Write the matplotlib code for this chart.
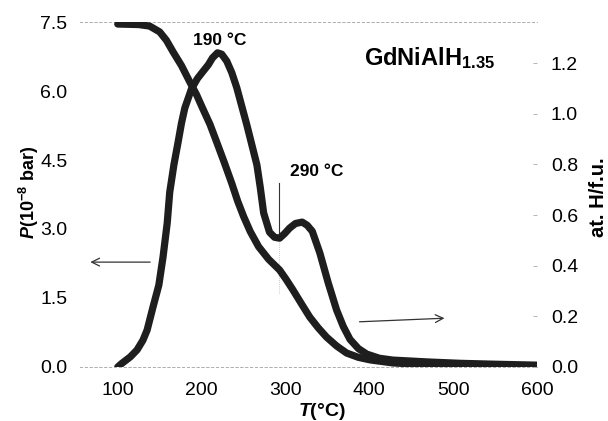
import matplotlib
matplotlib.use("Agg")
import matplotlib.pyplot as plt

plt.rcParams["font.family"] = ["Liberation Sans", "DejaVu Sans"]
plt.rcParams["mathtext.fontset"] = "custom"
plt.rcParams["mathtext.rm"] = "Liberation Sans:bold"
plt.rcParams["mathtext.bf"] = "Liberation Sans:bold"
plt.rcParams["mathtext.it"] = "Liberation Sans:bold:italic"

# desorption pressure (left axis)
temp_p = [100, 105, 115, 123, 130, 135, 142, 149, 154, 159, 162, 167, 172, 176,
          180, 188, 195, 201, 208, 213, 219, 224, 230, 236, 242, 254, 266, 270,
          274, 281, 287, 293, 299, 305, 312, 320, 326, 332, 341, 351, 361, 369,
          377, 387, 397, 412, 428, 469, 508, 550, 600]
pressure = [0.0, 0.08, 0.22, 0.37, 0.58, 0.80, 1.30, 1.78, 2.39, 3.13, 3.80, 4.40,
            4.89, 5.30, 5.63, 6.05, 6.27, 6.41, 6.57, 6.72, 6.83, 6.80, 6.65, 6.40,
            6.07, 5.26, 4.39, 3.90, 3.35, 2.93, 2.82, 2.80, 2.90, 3.02, 3.12, 3.15,
            3.08, 2.95, 2.48, 1.83, 1.24, 0.88, 0.60, 0.40, 0.28, 0.19, 0.15, 0.11,
            0.08, 0.06, 0.04]

# hydrogen content (right axis)
temp_h = [100, 125, 138, 150, 158, 166, 176, 186, 194, 201, 210, 218, 227, 236,
          243, 250, 258, 268, 280, 293, 301, 309, 319, 329, 339, 349, 361, 373,
          387, 401, 428, 470, 508, 600]
hydrogen = [1.354, 1.352, 1.346, 1.323, 1.29, 1.244, 1.19, 1.125, 1.075, 1.023,
            0.958, 0.888, 0.808, 0.725, 0.655, 0.595, 0.535, 0.475, 0.425, 0.383,
            0.345, 0.304, 0.250, 0.197, 0.155, 0.118, 0.083, 0.055, 0.038, 0.028,
            0.016, 0.009, 0.006, 0.004]

x_ticks = [100, 200, 300, 400, 500, 600]
p_ticks = [0.0, 1.5, 3.0, 4.5, 6.0, 7.5]
h_ticks = [0.0, 0.2, 0.4, 0.6, 0.8, 1.0, 1.2]

curve = "#1e1e1e"

fig = plt.figure(figsize=(6.08, 4.21), dpi=100)
ax = fig.add_axes([0.1316, 0.1283, 0.7516, 0.8194])
ax2 = ax.twinx()

ax.plot(temp_p, pressure, color=curve, lw=5.2, solid_capstyle="round",
        solid_joinstyle="round", zorder=3)
ax2.plot(temp_h, hydrogen, color=curve, lw=5.2, solid_capstyle="round",
         solid_joinstyle="round", zorder=3)

ax.set_xlim(55, 600)
ax.set_ylim(0, 7.5)
ax2.set_ylim(0, 1.362)

ax.set_xticks(x_ticks)
ax.set_yticks(p_ticks)
ax.set_yticklabels([f"{v:.1f}" for v in p_ticks])
ax2.set_yticks(h_ticks)
ax2.set_yticklabels([f"{v:.1f}" for v in h_ticks])

ax.tick_params(axis="x", length=0, pad=11, labelsize=14)
ax.tick_params(axis="y", length=0, pad=9, labelsize=14)
ax2.tick_params(axis="y", length=3, width=0.6, color="#aaaaaa", direction="in",
                pad=10, labelsize=14)

for a in (ax, ax2):
    for side in ("left", "right"):
        a.spines[side].set_visible(False)
    for side in ("top", "bottom"):
        a.spines[side].set_linestyle((0, (2, 3)))
        a.spines[side].set_color("#b0b0b0")
        a.spines[side].set_linewidth(0.7)

# axis titles placed in figure pixels of the reference
fig.text(322 / 608, 1 - 411 / 421, r"$T$(°C)", fontsize=14,
         fontweight="bold", ha="center", va="center")
fig.text(29 / 608, 1 - 192 / 421, r"$P$(10$^{-8}$ bar)", fontsize=13,
         fontweight="bold", ha="center", va="center", rotation=90)
fig.text(598 / 608, 1 - 197 / 421, "at. H/f.u.", fontsize=14.5,
         fontweight="bold", ha="center", va="center", rotation=90)

ax.text(221, 7.09, "190 °C", fontsize=12.5, fontweight="bold",
        ha="center", va="center")
ax.text(337, 4.26, "290 °C", fontsize=12.5, fontweight="bold",
        ha="center", va="center")
ax.plot([292, 292], [2.9, 4.0], color="#333333", lw=0.8)
ax.plot([292, 292], [1.6, 2.9], color="#999999", lw=0.5, ls=(0, (1, 2)))
ax.text(550, 6.57, r"GdNiAlH$_{1.35}$", fontsize=17, fontweight="bold",
        ha="right", va="baseline")

ax.annotate("", xy=(64, 2.28), xytext=(142, 2.28),
            arrowprops=dict(arrowstyle="->", color="#333333", lw=0.9,
                            mutation_scale=14))
ax2.annotate("", xy=(493, 0.193), xytext=(385, 0.178),
             arrowprops=dict(arrowstyle="->", color="#333333", lw=0.9,
                             mutation_scale=14))

fig.savefig("out.png", dpi=100)
